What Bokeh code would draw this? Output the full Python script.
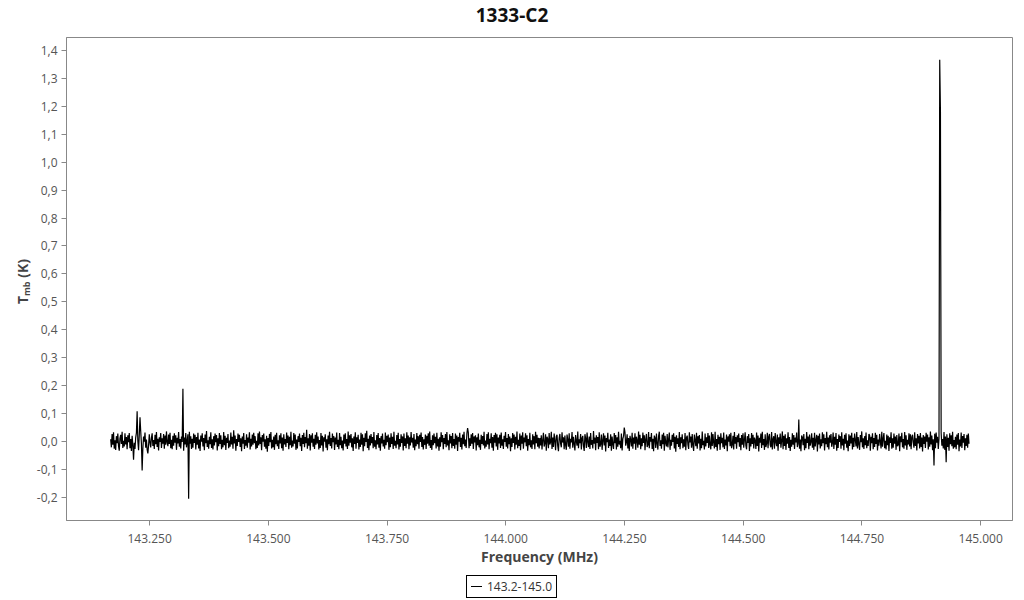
import numpy as np
from bokeh.plotting import figure
from bokeh.models import Range1d, FixedTicker, Div
from bokeh.layouts import row, column
from bokeh.embed import file_html
from bokeh.resources import INLINE

TITLE = "1333-C2"
X_LABEL = "Frequency (MHz)"
SERIES_NAME = "143.2-145.0"

# frequency channel grid (MHz)
freq_start = 143.168
freq_stop = 144.9755

# baseline noise (mK)
noise_mk = [
    8,-21,27,-12,33,-26,4,-30,19,-6,28,-17,-33,11,24,-9,35,-23,2,-18,
    29,-11,16,-28,22,-3,30,-24,9,-34,20,-13,25,-5,-27,14,31,-19,1,-31,
    23,-15,37,-7,12,-25,18,-1,32,-22,7,-29,17,-14,26,-4,-21,13,29,-16,
    5,-27,24,-10,34,-20,10,-32,15,-2,30,-23,11,-8,27,-26,21,-12,36,-3,
    -17,25,-9,31,-24,6,-28,20,-15,29,-4,22,-30,13,-7,34,-19,9,-25,18,
    -2,27,-33,14,-11,30,-21,3,26,-16,35,-8,19,-27,10,-22,28,-5,24,-29,
    16,-12,31,-25,7,-34,21,-1,29,-18,12,-31,25,-6,37,-20,4,-26,17,-10,
    33,-23,8,-29,19,-14,28,-3,23,-32,11,-17,30,-9,22,-28,6,-21,34,-13,
    20,-30,13,-5,27,-24,3,-19,32,-11,17,-26,40,-7,21,-33,9,-16,28,-2,
    24,-20,11,-35,18,-8,30,-27,5,-15,26,-22,14,-4,33,-29,10,-18,25,-12,
    31,-6,19,-28,2,-23,29,-14,36,-9,15,-31,23,-1,28,-19,8,-26,20,-37,
    12,-16,27,-3,34,-25,6,-21,18,-30,24,-10,31,-17,4,-27,22,-7,29,-24,
    14,-33,26,-11,9,-20,32,-5,21,-28,17,-13,35,-22,3,-18,30,-8,25,-30,
    7,-25,19,-2,28,-17,13,-34,23,-9,31,-21,16,-6,42,-26,11,-15,27,-32,
    22,-4,29,-19,10,-27,24,-12,33,-7,18,-29,5,-23,30,-14,20,-36,15,-1,
    26,-22,8,-31,21,-10,35,-16,12,-25,28,-3,19,-30,14,-11,32,-20,6,-28,
    30,-13,17,-24,3,-32,25,-8,29,-18,9,-27,36,-15,22,-4,27,-21,11,-34,
    18,-9,33,-26,15,-5,24,-29,7,-20,31,-12,26,-35,13,-17,29,-2,38,-23,
    10,-31,21,-14,27,-6,16,-24,34,-19,4,-28,23,-11,30,-22,12,-33,19,-7,
    28,-18,6,-26,32,-13,20,-3,25,-30,14,-21,29,-9,17,-27,35,-15,2,-24,
    23,-11,31,-29,9,-19,26,-5,18,-32,28,-16,11,-24,33,-8,21,-28,15,-14,
    34,-4,13,-22,27,-31,7,-17,30,-10,19,-26,24,-2,32,-20,16,-29,8,-12,
    25,-27,20,-8,29,-15,36,-23,5,-30,22,-13,28,-6,17,-25,31,-18,10,-33,
    15,-19,33,-3,23,-28,12,-9,27,-21,34,-14,4,-31,26,-7,19,-24,30,-16,
    9,-26,28,-12,21,-34,16,-1,31,-20,13,-29,25,-10,35,-17,7,-23,29,-5,
    32,-24,11,-16,26,-8,30,-27,18,-3,22,-32,15,-13,28,-21,6,-30,24,-9,
    19,-14,35,-25,3,-19,27,-11,33,-28,10,-6,29,-22,16,-33,23,-4,31,-18,
    26,-30,14,-7,24,-23,32,-15,8,-27,20,-2,34,-19,12,-25,27,-10,18,-35,
    11,-20,30,-5,25,-29,17,-12,36,-24,6,-16,28,-31,21,-8,33,-26,14,-3,
    29,-17,22,-33,9,-13,31,-21,4,-27,26,-11,19,-28,35,-6,24,-19,13,-25,
    12,
    -14,22,-29,5,31,-18,-7,26,-33,17,9,-24,30,-11,-2,35,-27,14,-20,28,
    3,-31,19,24,-16,-35,12,27,-8,-21,33,-4,15,-28,21,-13,-30,25,6,-19,
    29,-26,10,-3,34,-22,17,-9,-32,23,1,-15,36,-24,8,-6,27,-29,13,20,
    -17,-34,26,11,-23,32,-1,-20,18,-27,30,-12,5,-25,37,-8,14,-31,22,-5,
    16,-28,33,-19,-9,25,-30,4,29,-14,21,-36,12,-2,31,-23,7,-16,26,-33,
    18,-10,-27,30,-6,23,-29,15,-19,35,-11,2,-24,28,-32,9,19,-21,33,-15,
    -3,26,-25,12,-34,20,7,-18,31,-26,14,-8,29,-30,17,3,-22,36,-12,24,
    -28,11,-17,32,-5,22,-31,8,27,-20,-13,34,-24,16,-1,30,-27,10,-35,21,
    13,-23,28,-7,-29,19,35,-16,4,-26,25,-10,31,-33,20,-4,-18,27,-21,9,
    32,-30,6,-15,24,-2,29,-25,17,-37,22,-9,11,-20,34,-28,15,-6,26,-24,
    8,-19,30,-31,14,21,-12,-27,33,-3,18,-22,27,-14,-34,25,5,-17,31,-26,
    19,-7,23,-32,10,-24,36,-13,2,-29,28,-18,15,-5,30,-23,21,-11,-28,33,
    -16,27,-4,-25,35,-20,9,-33,24,-10,17,-30,29,-6,13,-21,32,-27,7,-14,
    25,-35,18,-1,26,-17,31,-24,-11,20,-29,34,-8,16,-26,22,-3,28,-19,12,
    -31,23,-12,29,-22,6,33,-15,-28,19,-5,27,-34,11,-18,30,-9,24,-25,14,
    4,-27,32,-16,21,-36,13,-4,28,-23,35,-13,9,-30,26,-20,-7,31,-24,17,
    27,-12,-21,34,-29,8,19,-26,30,-2,-17,25,-33,15,-9,28,-22,3,36,-28,
    20,-16,26,-30,11,-8,33,-23,16,-34,6,-19,29,-12,23,-27,14,-3,32,-20,
    -9,30,-26,7,-35,21,15,-13,27,-31,10,-24,34,-5,18,-28,25,-15,-1,29,
    -22,13,-30,31,-18,5,24,-36,20,-11,28,-25,8,-17,33,-6,26,-32,12,-10,
    35,-21,14,-29,22,-4,27,-19,-6,32,-27,17,-12,30,-33,9,-23,25,-2,19,
    -26,33,-14,10,-31,24,-8,29,-22,3,-35,26,-16,21,-7,31,-29,13,-20,28,
    6,-18,34,-25,16,-10,-30,23,-3,36,-21,11,-27,19,-13,32,-24,4,-16,27,
    22,-33,17,-6,29,-28,12,-20,31,-9,24,-32,7,-15,27,-1,-25,35,-19,10,
    30,-24,2,-29,25,-13,20,-34,15,-5,33,-26,11,-22,28,-8,18,-30,23,-17,
    -12,28,-35,19,-3,31,-21,9,-26,34,-14,22,-30,6,-11,29,-18,26,-28,16,
    24,-5,-22,33,-16,11,-32,27,-7,20,-25,30,-20,14,-36,23,-9,18,-23,31,
    -1,25,-29,15,-19,36,-11,21,-31,8,-14,28,-24,32,-4,17,-27,10,-33,22,
    31,-15,9,-25,34,-30,18,-2,26,-20,13,-33,29,-10,22,-17,35,-26,5,-21,
    17,-28,25,-12,30,-35,7,-18,32,-23,19,-4,27,-31,11,-16,24,-22,28,-8,
]

# line features (MHz, K)
spike_freq = [143.2169, 143.2233, 143.2296, 143.2346, 143.2458, 143.3201, 143.3328,
              143.92, 144.25, 144.617, 144.9015, 144.9141, 144.9156, 144.9276]
spike_val = [-0.065, 0.108, 0.087, -0.104, -0.043, 0.189, -0.205,
             0.048, 0.050, 0.079, -0.086, 1.367, 1.185, -0.074]

y_ticks = [-0.2, -0.1, 0.0, 0.1, 0.2, 0.3, 0.4, 0.5, 0.6, 0.7, 0.8, 0.9, 1.0, 1.1, 1.2, 1.3, 1.4]
y_tick_labels = ["-0,2", "-0,1", "0,0", "0,1", "0,2", "0,3", "0,4", "0,5", "0,6", "0,7",
                 "0,8", "0,9", "1,0", "1,1", "1,2", "1,3", "1,4"]
x_ticks = [143.25, 143.5, 143.75, 144.0, 144.25, 144.5, 144.75, 145.0]
x_tick_labels = ["143.250", "143.500", "143.750", "144.000", "144.250", "144.500", "144.750", "145.000"]

freq = np.linspace(freq_start, freq_stop, len(noise_mk))
tmb = np.array(noise_mk, dtype=float) / 1000.0
for f, v in zip(spike_freq, spike_val):
    tmb[int(np.argmin(np.abs(freq - f)))] = v

FONT = "Open Sans"

p = figure(width=994, height=540, output_backend="svg", toolbar_location=None,
           x_range=Range1d(143.075, 145.067), y_range=Range1d(-0.283, 1.4465),
           min_border_left=36, min_border_right=12, min_border_top=7, min_border_bottom=50)
p.outline_line_color = "#888888"
p.outline_line_width = 1
p.xgrid.visible = False
p.ygrid.visible = False
p.background_fill_color = "white"

r = p.line(freq, tmb, line_color="black", line_width=1.2)

for ax in (p.xaxis[0], p.yaxis[0]):
    ax.axis_line_color = "#888888"
    ax.major_tick_line_color = "#888888"
    ax.major_tick_out = 5
    ax.major_tick_in = 0
    ax.minor_tick_line_color = None
    ax.major_label_text_font = FONT
    ax.major_label_text_font_size = "12px"
    ax.major_label_text_color = "#555555"

p.yaxis.ticker = FixedTicker(ticks=y_ticks)
p.yaxis.major_label_overrides = {t: l for t, l in zip(y_ticks, y_tick_labels)}
p.yaxis.major_label_standoff = 4

p.xaxis.ticker = FixedTicker(ticks=x_ticks)
p.xaxis.major_label_overrides = {t: l for t, l in zip(x_ticks, x_tick_labels)}
p.xaxis.major_label_standoff = 8
p.xaxis.axis_label = X_LABEL
p.xaxis.axis_label_text_font = FONT
p.xaxis.axis_label_text_font_size = "14px"
p.xaxis.axis_label_text_font_style = "bold"
p.xaxis.axis_label_text_color = "#444444"
p.xaxis.axis_label_standoff = 1

title_html = (
    '<div style="width:1024px;height:30px;line-height:30px;text-align:center;'
    "font-family:'Open Sans';font-weight:bold;font-size:19px;color:#111111;\">"
    + TITLE + '</div>'
)
title_div = Div(text=title_html, width=1024, height=30, margin=0)

ylabel_html = (
    '<div style="height:540px;width:30px;display:flex;align-items:center;'
    'justify-content:center;padding-left:16px;padding-bottom:37px;box-sizing:border-box;">'
    '<span style="writing-mode:vertical-rl;transform:rotate(180deg);white-space:nowrap;'
    "font-family:'Open Sans';font-weight:bold;font-size:14px;color:#444444;\">"
    'T<sub style="font-size:9px;">mb</sub> (K)</span></div>'
)
ylabel = Div(text=ylabel_html, width=30, height=540, margin=0)

legend_html = (
    '<div style="margin-left:466px;margin-top:5px;width:91px;height:23px;box-sizing:border-box;'
    'border:1px solid #000000;background:#ffffff;display:flex;align-items:center;'
    "padding:0 4px;font-family:'Open Sans';font-size:12px;color:#333333;white-space:nowrap;\">"
    '<span style="display:inline-block;width:12px;height:0;border-top:1px solid #000000;'
    'margin-right:5px;"></span>' + SERIES_NAME + '</div>'
)
legend_div = Div(text=legend_html, width=1024, height=30, margin=0)

layout = column(title_div, row(ylabel, p, spacing=0), legend_div, spacing=0)
open("out.html", "w").write(file_html(layout, INLINE))
